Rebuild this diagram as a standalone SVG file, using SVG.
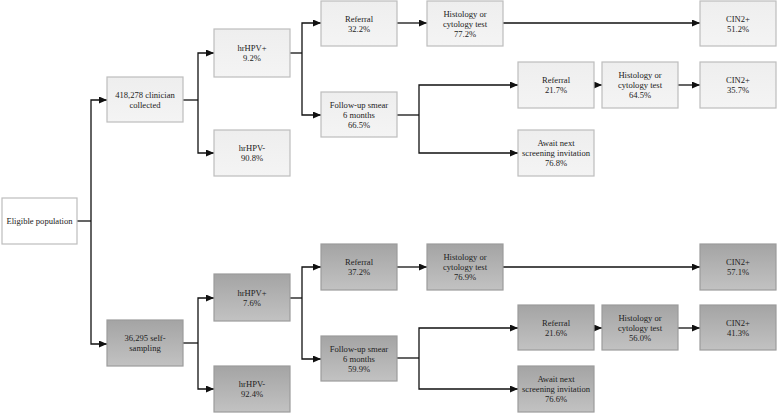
<svg xmlns="http://www.w3.org/2000/svg" width="778" height="413" viewBox="0 0 778 413">
<style>
.lt{fill:url(#gl);stroke:#bdbdbd;stroke-width:1.2}
.dk{fill:url(#gd);stroke:#9c9c9c;stroke-width:1.2}
.wt{fill:#ffffff;stroke:#bdbdbd;stroke-width:1.2}
text{font-family:"Liberation Serif","Times New Roman",serif;font-size:8.6px;fill:#222;text-anchor:middle}
.c{fill:none;stroke:#111;stroke-width:1.3;marker-end:url(#ah)}
.n{fill:none;stroke:#111;stroke-width:1.3}
</style>
<defs>
<linearGradient id="gl" x1="0" y1="0" x2="0" y2="1"><stop offset="0" stop-color="#eeeeee"/><stop offset="1" stop-color="#f4f4f4"/></linearGradient>
<linearGradient id="gd" x1="0" y1="0" x2="0" y2="1"><stop offset="0" stop-color="#a4a4a4"/><stop offset="1" stop-color="#c2c2c2"/></linearGradient>
<marker id="ah" markerUnits="userSpaceOnUse" markerWidth="9" markerHeight="8" refX="8" refY="3.5" orient="auto"><path d="M0,0 L8,3.5 L0,7 z" fill="#111"/></marker>
</defs>
<rect width="778" height="413" fill="#ffffff"/>
<g id="connectors">
<path class="n" d="M77,221 H91"/>
<path class="c" d="M91,221 V100 H107"/>
<path class="c" d="M91,221 V344 H107"/>
<path class="n" d="M183,100 H198"/>
<path class="c" d="M198,100 V53 H214"/>
<path class="c" d="M198,100 V153 H214"/>
<path class="n" d="M290,53 H302"/>
<path class="c" d="M302,53 V23 H321"/>
<path class="c" d="M302,53 V115 H321"/>
<path class="c" d="M397,23 H427"/>
<path class="c" d="M503,23 H700"/>
<path class="n" d="M397,115 H419"/>
<path class="c" d="M419,115 V85 H518"/>
<path class="c" d="M419,115 V153 H518"/>
<path class="c" d="M594,85 H602"/>
<path class="c" d="M678,85 H700"/>
<path class="n" d="M183,343 H198"/>
<path class="c" d="M198,343 V298 H214"/>
<path class="c" d="M198,343 V389 H214"/>
<path class="n" d="M290,298 H302"/>
<path class="c" d="M302,298 V267 H321"/>
<path class="c" d="M302,298 V359 H321"/>
<path class="c" d="M397,267 H427"/>
<path class="c" d="M503,267 H700"/>
<path class="n" d="M397,358 H419"/>
<path class="c" d="M419,358 V328 H518"/>
<path class="c" d="M419,358 V389 H518"/>
<path class="c" d="M594,328 H602"/>
<path class="c" d="M678,328 H700"/>
</g>
<g id="eligible"><rect class="wt" x="2" y="198" width="75" height="46"/><text x="39.5" y="224">Eligible population</text></g>
<g id="clinician"><rect class="lt" x="107" y="77" width="76" height="45"/><text x="145" y="97.5">418,278 clinician</text><text x="145" y="107.5">collected</text></g>
<g id="hpvpos1"><rect class="lt" x="214" y="29" width="76" height="48"/><text x="252" y="51">hrHPV+</text><text x="252" y="61">9.2%</text></g>
<g id="hpvneg1"><rect class="lt" x="214" y="130" width="76" height="46"/><text x="252" y="151">hrHPV-</text><text x="252" y="161">90.8%</text></g>
<g id="referral1"><rect class="lt" x="321" y="1" width="76" height="45"/><text x="359" y="21.5">Referral</text><text x="359" y="31.5">32.2%</text></g>
<g id="histology1"><rect class="lt" x="427" y="1" width="76" height="45"/><text x="465" y="16.5">Histology or</text><text x="465" y="26.5">cytology test</text><text x="465" y="36.5">77.2%</text></g>
<g id="cin1"><rect class="lt" x="700" y="1" width="76" height="45"/><text x="738" y="21.5">CIN2+</text><text x="738" y="31.5">51.2%</text></g>
<g id="followup1"><rect class="lt" x="321" y="92" width="76" height="45"/><text x="359" y="107.5">Follow-up smear</text><text x="359" y="117.5">6 months</text><text x="359" y="127.5">66.5%</text></g>
<g id="referral1b"><rect class="lt" x="518" y="62" width="76" height="46"/><text x="556" y="83">Referral</text><text x="556" y="93">21.7%</text></g>
<g id="histology1b"><rect class="lt" x="602" y="62" width="76" height="46"/><text x="640" y="78">Histology or</text><text x="640" y="88">cytology test</text><text x="640" y="98">64.5%</text></g>
<g id="cin1b"><rect class="lt" x="700" y="62" width="76" height="46"/><text x="738" y="83">CIN2+</text><text x="738" y="93">35.7%</text></g>
<g id="await1"><rect class="lt" x="518" y="130" width="76" height="46"/><text x="556" y="146">Await next</text><text x="556" y="156">screening invitation</text><text x="556" y="166">76.8%</text></g>
<g id="selfsampling"><rect class="dk" x="107" y="320" width="76" height="46"/><text x="145" y="341">36,295 self-</text><text x="145" y="351">sampling</text></g>
<g id="hpvpos2"><rect class="dk" x="214" y="274" width="76" height="47"/><text x="252" y="295.5">hrHPV+</text><text x="252" y="305.5">7.6%</text></g>
<g id="hpvneg2"><rect class="dk" x="214" y="366" width="76" height="46"/><text x="252" y="387">hrHPV-</text><text x="252" y="397">92.4%</text></g>
<g id="referral2"><rect class="dk" x="321" y="244" width="76" height="46"/><text x="359" y="265">Referral</text><text x="359" y="275">37.2%</text></g>
<g id="histology2"><rect class="dk" x="427" y="244" width="76" height="46"/><text x="465" y="260">Histology or</text><text x="465" y="270">cytology test</text><text x="465" y="280">76.9%</text></g>
<g id="cin2"><rect class="dk" x="700" y="244" width="76" height="46"/><text x="738" y="265">CIN2+</text><text x="738" y="275">57.1%</text></g>
<g id="followup2"><rect class="dk" x="321" y="336" width="76" height="45"/><text x="359" y="351.5">Follow-up smear</text><text x="359" y="361.5">6 months</text><text x="359" y="371.5">59.9%</text></g>
<g id="referral2b"><rect class="dk" x="518" y="305" width="76" height="45"/><text x="556" y="325.5">Referral</text><text x="556" y="335.5">21.6%</text></g>
<g id="histology2b"><rect class="dk" x="602" y="305" width="76" height="45"/><text x="640" y="320.5">Histology or</text><text x="640" y="330.5">cytology test</text><text x="640" y="340.5">56.0%</text></g>
<g id="cin2b"><rect class="dk" x="700" y="305" width="76" height="45"/><text x="738" y="325.5">CIN2+</text><text x="738" y="335.5">41.3%</text></g>
<g id="await2"><rect class="dk" x="518" y="366" width="76" height="46"/><text x="556" y="382">Await next</text><text x="556" y="392">screening invitation</text><text x="556" y="402">76.6%</text></g>
</svg>
